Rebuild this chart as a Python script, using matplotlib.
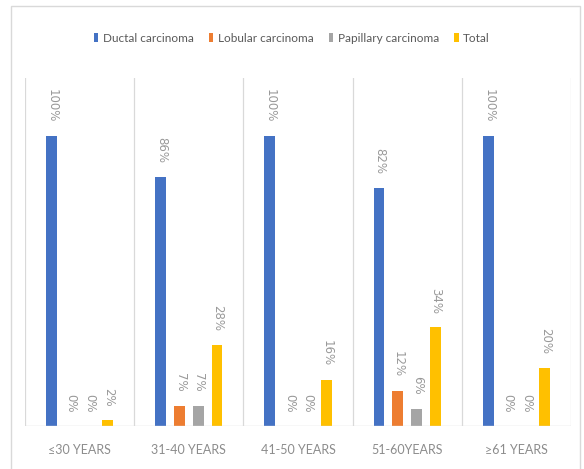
import matplotlib
matplotlib.use("Agg")
import matplotlib.pyplot as plt
from matplotlib.patches import Rectangle
import numpy as np

plt.rcParams['font.family'] = ['Lato', 'DejaVu Sans']

categories = ["≤30 YEARS", "31-40 YEARS", "41-50 YEARS", "51-60YEARS", "≥61 YEARS"]
series_names = ["Ductal carcinoma", "Lobular carcinoma", "Papillary carcinoma", "Total"]
ductal = [100, 86, 100, 82, 100]
lobular = [0, 7, 0, 12, 0]
papillary = [0, 7, 0, 6, 0]
total = [2, 28, 16, 34, 20]
colors = ["#4472C4", "#ED7D31", "#A5A5A5", "#FFC000"]

series = [ductal, lobular, papillary, total]

fig = plt.figure(figsize=(5.84, 4.69), dpi=100)
W, H = 584, 469

# outer chart frame
fig.patches.append(Rectangle((11 / W, -0.01), (580 - 11) / W, (H - 6) / H + 0.01,
                             transform=fig.transFigure, fill=False,
                             edgecolor="#D9D9D9", linewidth=1.0))

ax = fig.add_axes([25 / W, (H - 426) / H, (571 - 25) / W, (426 - 78) / H])
n = len(categories)
x = np.arange(n)
bw = 0.10
step = 0.172
offsets = (np.arange(4) - 1.5) * step

for i, (vals, c, name) in enumerate(zip(series, colors, series_names)):
    ax.bar(x + offsets[i], vals, width=bw, color=c, label=name, zorder=3)
    for xi, v in zip(x + offsets[i], vals):
        ax.annotate(f"{v}%", xy=(xi, v), xytext=(0.5, 10), textcoords="offset points",
                    rotation=270, ha="center", va="bottom",
                    fontsize=8.5, color="#999999", family=['DejaVu Sans'])

ax.set_xlim(-0.5, n - 0.5)
ax.set_ylim(0, 120)
for b in np.arange(n + 1) - 0.5:
    ax.axvline(b, color="#D9D9D9", linewidth=0.9, zorder=1)
ax.axhline(0, color="#D9D9D9", linewidth=1.0, zorder=4)

for s in ax.spines.values():
    s.set_visible(False)
ax.set_yticks([])
ax.set_xticks(x)
ax.set_xticklabels(categories, fontsize=9, color="#8C8C8C")
ax.tick_params(axis="x", length=0, pad=13)

fig.legend(loc="center", bbox_to_anchor=(0.5, (H - 38) / H), ncol=4, frameon=False,
           fontsize=8.5, handlelength=0.35, handleheight=0.9, handletextpad=0.4,
           columnspacing=1.3, labelcolor="#595959")

fig.savefig("out.png", dpi=100)
